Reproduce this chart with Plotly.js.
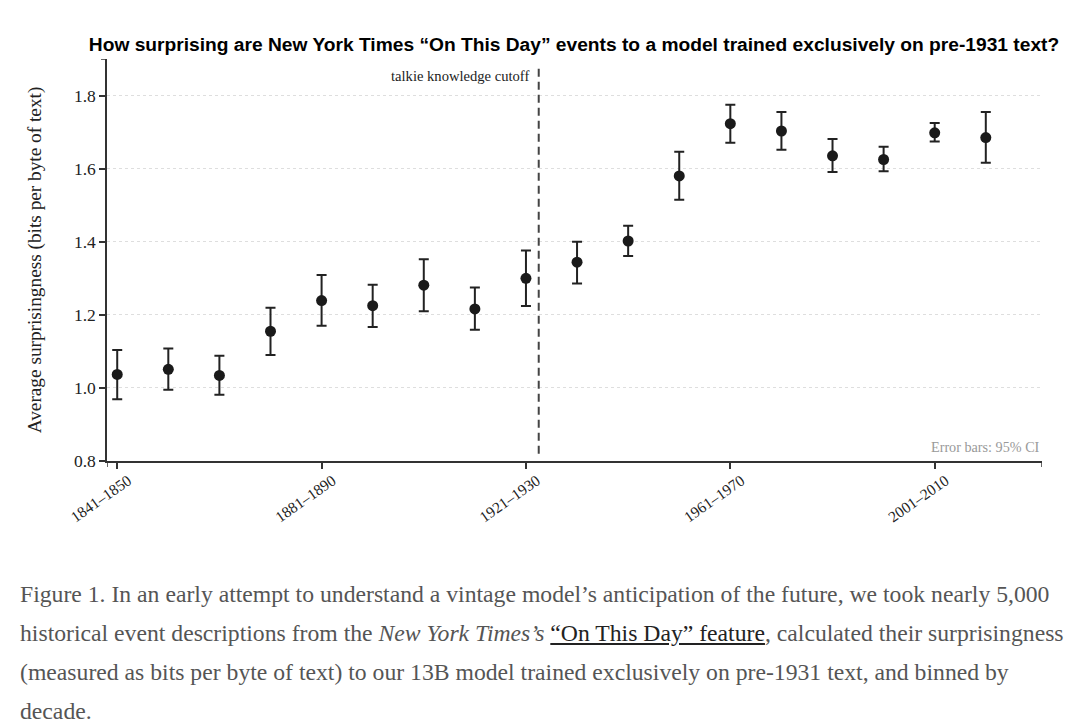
<!DOCTYPE html>
<html>
<head>
<meta charset="utf-8">
<script src="https://cdn.plot.ly/plotly-3.0.1.min.js"></script>
<style>
  body { margin: 0; background: #fff; }
  #chart { width: 1080px; height: 560px; }
  .caption {
    margin: 15px 0 0 20px;
    font-family: "Liberation Serif", "Times New Roman", serif;
    font-size: 23.7px;
    line-height: 39px;
    color: #555;
    white-space: nowrap;
  }
  .caption a { color: #222; text-decoration: underline; }
</style>
</head>
<body>
<div id="chart"></div>
<div class="caption">
Figure 1. In an early attempt to understand a vintage model’s anticipation of the future, we took nearly 5,000<br>
historical event descriptions from the <i>New York Times’s</i> <a>“On This Day” feature</a>, calculated their surprisingness<br>
(measured as bits per byte of text) to our 13B model trained exclusively on pre-1931 text, and binned by<br>
decade.
</div>
<script>
// decades, one point each
const decades = [
  "1841–1850", "1851–1860", "1861–1870", "1871–1880", "1881–1890", "1891–1900",
  "1901–1910", "1911–1920", "1921–1930", "1931–1940", "1941–1950", "1951–1960",
  "1961–1970", "1971–1980", "1981–1990", "1991–2000", "2001–2010", "2011–2020"
];
// mean bits per byte
const meanBpb = [1.037, 1.051, 1.034, 1.155, 1.239, 1.225, 1.281, 1.216, 1.300,
                 1.344, 1.402, 1.580, 1.723, 1.703, 1.635, 1.625, 1.698, 1.685];
// 95% CI bounds
const ciHigh = [1.104, 1.108, 1.088, 1.219, 1.309, 1.282, 1.352, 1.275, 1.376,
                1.400, 1.444, 1.646, 1.775, 1.755, 1.681, 1.660, 1.725, 1.755];
const ciLow  = [0.969, 0.995, 0.981, 1.090, 1.170, 1.167, 1.210, 1.159, 1.224,
                1.286, 1.361, 1.515, 1.671, 1.652, 1.591, 1.593, 1.674, 1.616];
const tickEvery = 4;
const cutoffPos = 8.25;   // just after 1921–1930

const xIdx = decades.map((d, i) => i);
const tickVals = xIdx.filter(i => i % tickEvery === 0);
const tickText = tickVals.map(i => decades[i]);

const serif = "Liberation Serif, Times New Roman, serif";
const ink = "#222";

const trace = {
  x: xIdx,
  y: meanBpb,
  type: "scatter",
  mode: "markers",
  marker: { size: 11, color: "#1a1a1a" },
  error_y: {
    type: "data",
    symmetric: false,
    array: meanBpb.map((m, i) => ciHigh[i] - m),
    arrayminus: meanBpb.map((m, i) => m - ciLow[i]),
    color: "#222",
    thickness: 2,
    width: 5
  },
  text: decades,
  hoverinfo: "text+y"
};

const xRange = [-0.2, 18.1];
const yRange = [0.8, 1.9];

const layout = {
  width: 1080,
  height: 560,
  margin: { l: 107, r: 38, t: 59, b: 99 },
  paper_bgcolor: "#fff",
  plot_bgcolor: "#fff",
  showlegend: false,
  title: {
    text: "<b>How surprising are New York Times “On This Day” events to a model trained exclusively on pre-1931 text?</b>",
    font: { family: "Liberation Sans, Arial, sans-serif", size: 19.2, color: "#000" },
    x: 0.5315, xanchor: "center",
    y: 0.921, yanchor: "middle"
  },
  xaxis: {
    range: xRange,
    tickmode: "array",
    tickvals: tickVals,
    ticktext: tickText,
    tickangle: -35,
    ticklabelshift: 11,
    ticklabelstandoff: -3,
    ticks: "outside",
    ticklen: 6,
    tickwidth: 1.5,
    tickcolor: "#333",
    showline: true,
    linecolor: "#333",
    linewidth: 1.5,
    showgrid: false,
    zeroline: false,
    tickfont: { family: serif, size: 15.5, color: ink }
  },
  yaxis: {
    range: yRange,
    tickvals: [0.8, 1.0, 1.2, 1.4, 1.6, 1.8],
    ticktext: ["0.8", "1.0", "1.2", "1.4", "1.6", "1.8"],
    ticks: "outside",
    ticklen: 6,
    tickwidth: 1.5,
    tickcolor: "#333",
    showline: true,
    linecolor: "#333",
    linewidth: 1.5,
    showgrid: true,
    gridcolor: "#dedede",
    griddash: "dot",
    gridwidth: 1,
    zeroline: false,
    tickfont: { family: serif, size: 17.5, color: ink },
    title: {
      text: "Average surprisingness (bits per byte of text)",
      font: { family: serif, size: 19.3, color: ink },
      standoff: 27
    }
  },
  shapes: [
    // knowledge cutoff
    { type: "line", xref: "x", yref: "y", x0: cutoffPos, x1: cutoffPos, y0: 0.82, y1: 1.885,
      line: { color: "#444", width: 2, dash: "8px,5px" } },
    // outer ticks of the axis domains
    { type: "line", xref: "paper", xsizemode: "pixel", xanchor: 0, x0: -6, x1: 0,
      yref: "y", y0: yRange[1], y1: yRange[1], line: { color: "#333", width: 1.5 } },
    { type: "line", yref: "paper", ysizemode: "pixel", yanchor: 0, y0: 0, y1: -6,
      xref: "x", x0: xRange[0], x1: xRange[0], line: { color: "#333", width: 1.5 } },
    { type: "line", yref: "paper", ysizemode: "pixel", yanchor: 0, y0: 0, y1: -6,
      xref: "x", x0: xRange[1], x1: xRange[1], line: { color: "#333", width: 1.5 } }
  ],
  annotations: [
    { text: "talkie knowledge cutoff", xref: "x", yref: "paper", x: cutoffPos, y: 0.958,
      xanchor: "right", yanchor: "middle", xshift: -8, showarrow: false,
      font: { family: serif, size: 14.6, color: ink } },
    { text: "Error bars: 95% CI", xref: "paper", yref: "paper", x: 1, y: 0.035,
      xanchor: "right", yanchor: "middle", showarrow: false,
      font: { family: serif, size: 14.2, color: "#999" } }
  ]
};

Plotly.newPlot("chart", [trace], layout, { displayModeBar: false, responsive: false });
</script>
</body>
</html>
